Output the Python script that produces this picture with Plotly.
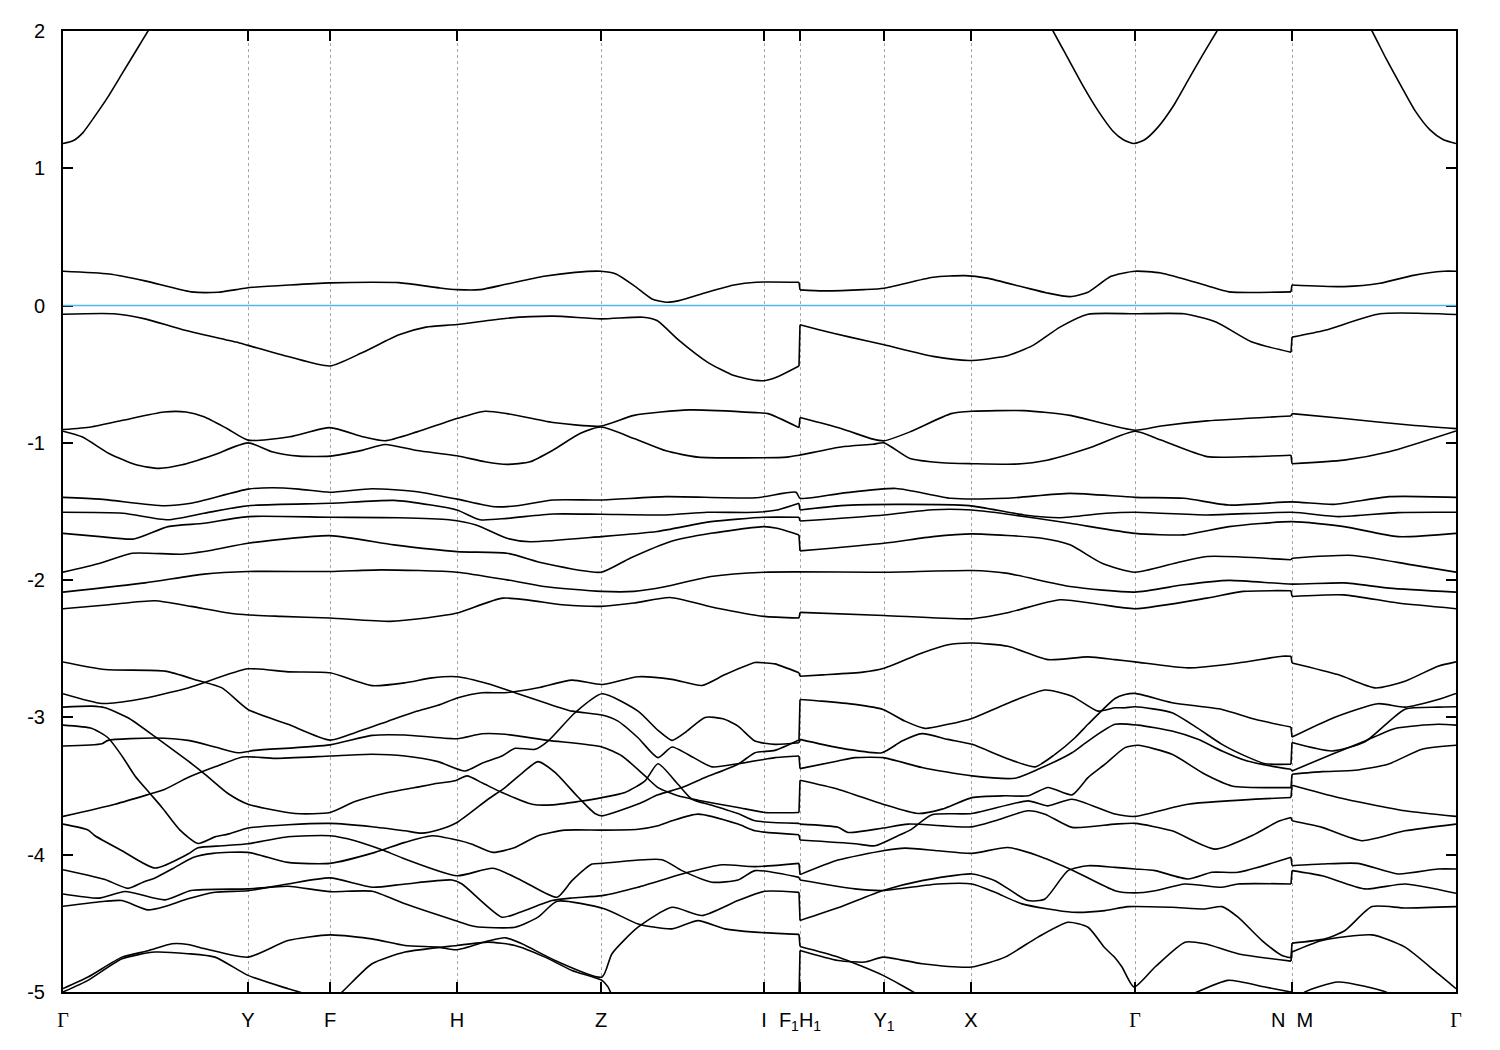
import plotly.graph_objects as go

# ---- high-symmetry path (k distance, arbitrary units) ----
G = '<span style="font-family:Liberation Serif, Times New Roman, serif">Γ</span>'
tick_k = [0, 185, 267, 394, 538, 701, 737, 821, 908, 1072, 1229, 1393]
tick_lab = [G, "Y", "F", "H", "Z", "I", "F<sub>1</sub>H<sub>1</sub>", "Y<sub>1</sub>", "X", G, "N  M", G]

# ---- conduction band pieces visible below 2 eV ----
cb_left = [(0, 1.18), (10, 1.2), (20, 1.26), (30, 1.36), (45, 1.52), (60, 1.7), (75, 1.88), (85, 2.0), (95, 2.12)]
cb_mid = [(980, 2.12), (990, 2.0), (1005, 1.8), (1020, 1.6), (1035, 1.42), (1050, 1.27), (1060, 1.21), (1071, 1.18),
          (1082, 1.21), (1095, 1.3), (1110, 1.45), (1125, 1.64), (1140, 1.83), (1154, 2.0), (1164, 2.12)]
cb_right = [(1299, 2.12), (1309, 2.0), (1323, 1.8), (1338, 1.6), (1352, 1.42), (1367, 1.28), (1380, 1.21), (1393, 1.18)]

cb1 = [(0, 0.25), (46, 0.23), (82, 0.18), (128, 0.10), (155, 0.097), (173, 0.116), (185, 0.13), (227, 0.15), (267, 0.165),
       (309, 0.17), (336, 0.167), (377, 0.128), (394, 0.116), (417, 0.116), (444, 0.157), (481, 0.213), (512, 0.242),
       (538, 0.25), (553, 0.23), (571, 0.145), (589, 0.048), (603, 0.024), (616, 0.036), (644, 0.097), (671, 0.15),
       (693, 0.17), (736, 0.17), (737, 0.114), (760, 0.107), (801, 0.116), (821, 0.126), (870, 0.206), (902, 0.218),
       (924, 0.2), (961, 0.133), (984, 0.092), (1007, 0.065), (1025, 0.097), (1048, 0.213), (1072, 0.25), (1098, 0.237),
       (1144, 0.145), (1166, 0.10), (1228, 0.10), (1229, 0.15), (1281, 0.138), (1317, 0.162), (1349, 0.218),
       (1381, 0.25), (1393, 0.25)]

# ---- valence bands ----
vb1 = [(0, -0.063), (51, -0.06), (82, -0.097), (119, -0.174), (173, -0.266), (185, -0.29), (227, -0.375), (267, -0.44),
       (300, -0.34), (336, -0.213), (363, -0.157), (394, -0.138), (444, -0.092), (490, -0.077), (538, -0.097),
       (580, -0.085), (594, -0.109), (616, -0.254), (644, -0.41), (671, -0.51), (693, -0.545), (701, -0.547),
       (714, -0.52), (736, -0.44), (737, -0.14), (755, -0.174), (787, -0.23), (821, -0.286), (870, -0.37), (906, -0.40),
       (943, -0.368), (970, -0.29), (997, -0.157), (1025, -0.063), (1072, -0.06), (1121, -0.06), (1153, -0.12),
       (1189, -0.266), (1228, -0.34), (1229, -0.23), (1262, -0.18), (1317, -0.06), (1393, -0.065)]

vb2 = [(0, -0.903), (28, -0.884), (60, -0.835), (101, -0.775), (123, -0.775), (141, -0.81), (164, -0.896), (185, -0.98),
       (227, -0.956), (267, -0.889), (300, -0.956), (322, -0.985), (354, -0.92), (394, -0.823), (422, -0.77),
       (444, -0.787), (490, -0.852), (538, -0.877), (571, -0.80), (626, -0.76), (693, -0.78), (705, -0.787),
       (736, -0.889), (737, -0.816), (778, -0.896), (810, -0.973), (821, -0.985), (847, -0.92), (888, -0.787),
       (909, -0.77), (961, -0.765), (1007, -0.80), (1072, -0.908), (1098, -0.877), (1144, -0.84), (1228, -0.804),
       (1229, -0.787), (1281, -0.823), (1349, -0.872), (1393, -0.896)]

vb3 = [(0, -0.915), (19, -0.956), (46, -1.077), (73, -1.16), (96, -1.186), (119, -1.16), (150, -1.09), (185, -1.0),
       (209, -1.065), (236, -1.097), (267, -1.097), (300, -1.053), (322, -1.012), (354, -1.056), (394, -1.094),
       (422, -1.138), (444, -1.157), (467, -1.138), (490, -1.053), (517, -0.932), (538, -0.885), (571, -0.968),
       (603, -1.058), (635, -1.104), (724, -1.104), (736, -1.09), (778, -1.03), (810, -1.01), (821, -1.0), (847, -1.114),
       (879, -1.145), (909, -1.152), (952, -1.155), (984, -1.126), (1029, -1.03), (1072, -0.915), (1098, -0.98),
       (1144, -1.10), (1189, -1.10), (1228, -1.09), (1229, -1.152), (1281, -1.126), (1326, -1.065), (1393, -0.913)]

vb4 = [(0, -1.397), (37, -1.41), (101, -1.458), (128, -1.44), (185, -1.337), (209, -1.327), (236, -1.337), (267, -1.36),
       (309, -1.334), (354, -1.356), (394, -1.41), (431, -1.465), (454, -1.458), (490, -1.416), (538, -1.416),
       (603, -1.392), (693, -1.40), (733, -1.36), (737, -1.404), (778, -1.368), (833, -1.332), (888, -1.404),
       (943, -1.404), (1007, -1.368), (1072, -1.397), (1121, -1.404), (1166, -1.453), (1228, -1.43), (1271, -1.448),
       (1326, -1.392), (1393, -1.397)]

vb5 = [(0, -1.506), (60, -1.513), (105, -1.56), (141, -1.513), (185, -1.458), (267, -1.44), (331, -1.419), (368, -1.453),
       (394, -1.489), (417, -1.56), (444, -1.55), (490, -1.518), (538, -1.52), (603, -1.525), (644, -1.506),
       (693, -1.506), (714, -1.489), (736, -1.44), (737, -1.489), (778, -1.457), (833, -1.448), (906, -1.457),
       (961, -1.525), (997, -1.545), (1043, -1.513), (1072, -1.506), (1144, -1.525), (1229, -1.506), (1276, -1.537),
       (1335, -1.508), (1393, -1.506)]

vb6 = [(0, -1.659), (37, -1.683), (71, -1.70), (105, -1.61), (141, -1.586), (185, -1.537), (267, -1.542), (336, -1.545),
       (386, -1.56), (413, -1.598), (444, -1.695), (467, -1.72), (538, -1.683), (594, -1.646), (648, -1.574),
       (701, -1.542), (736, -1.542), (737, -1.569), (821, -1.525), (870, -1.487), (909, -1.489), (938, -1.513),
       (1007, -1.586), (1072, -1.659), (1121, -1.67), (1166, -1.61), (1229, -1.574), (1281, -1.61), (1335, -1.683),
       (1393, -1.659)]

vb7 = [(0, -1.942), (37, -1.877), (69, -1.804), (119, -1.811), (150, -1.78), (185, -1.731), (267, -1.676), (331, -1.743),
       (394, -1.792), (444, -1.804), (481, -1.877), (538, -1.942), (567, -1.84), (607, -1.72), (648, -1.659),
       (701, -1.61), (714, -1.622), (736, -1.671), (737, -1.787), (821, -1.731), (870, -1.683), (909, -1.663),
       (979, -1.695), (1007, -1.743), (1039, -1.877), (1072, -1.942), (1112, -1.877), (1144, -1.828), (1228, -1.852),
       (1229, -1.84), (1290, -1.82), (1349, -1.889), (1393, -1.942)]

vb8 = [(0, -2.087), (82, -2.02), (141, -1.956), (185, -1.937), (267, -1.937), (318, -1.925), (394, -1.942), (444, -1.998),
       (481, -2.046), (538, -2.082), (571, -2.082), (603, -2.046), (648, -1.973), (701, -1.942), (821, -1.942),
       (909, -1.93), (943, -1.949), (1007, -2.046), (1072, -2.087), (1121, -2.034), (1166, -2.002), (1229, -2.029),
       (1281, -2.02), (1326, -2.058), (1393, -2.087)]

vb9 = [(0, -2.208), (46, -2.179), (92, -2.15), (128, -2.191), (173, -2.247), (218, -2.264), (267, -2.276), (327, -2.30),
       (363, -2.276), (394, -2.24), (440, -2.131), (499, -2.179), (538, -2.191), (571, -2.167), (607, -2.126),
       (653, -2.203), (701, -2.264), (736, -2.276), (737, -2.235), (821, -2.257), (909, -2.281), (943, -2.24),
       (997, -2.143), (1034, -2.174), (1072, -2.208), (1144, -2.131), (1180, -2.082), (1228, -2.077), (1229, -2.119),
       (1281, -2.107), (1335, -2.167), (1393, -2.208)]

# ---- dense manifold -2.5 ... -5 eV ----
vb10 = [(0, -2.596), (42, -2.651), (102, -2.663), (135, -2.731), (159, -2.785), (185, -2.942), (225, -3.05),
        (267, -3.165), (292, -3.111), (325, -3.027), (352, -2.959), (375, -2.912), (395, -2.857), (419, -2.82),
        (442, -2.82), (475, -2.784), (509, -2.728), (539, -2.76), (575, -2.704), (609, -2.723), (639, -2.767),
        (662, -2.688), (692, -2.60), (702, -2.603), (712, -2.61), (736, -2.675), (737, -2.70), (760, -2.69),
        (800, -2.67), (820, -2.644), (859, -2.53), (885, -2.47), (909, -2.458), (945, -2.482), (985, -2.579),
        (1025, -2.559), (1052, -2.579), (1072, -2.595), (1125, -2.639), (1175, -2.603), (1219, -2.554), (1228, -2.554),
        (1229, -2.603), (1275, -2.688), (1312, -2.785), (1342, -2.736), (1375, -2.627), (1393, -2.595)]

vb11 = [(0, -2.827), (39, -2.898), (75, -2.869), (125, -2.785), (185, -2.646), (225, -2.668), (267, -2.675),
        (309, -2.768), (342, -2.748), (369, -2.712), (394, -2.704), (425, -2.755), (452, -2.82), (482, -2.893),
        (509, -2.954), (539, -2.983), (555, -3.027), (575, -3.148), (595, -3.293), (609, -3.215), (625, -3.27),
        (649, -3.36), (675, -3.337), (702, -3.305), (712, -3.293), (736, -3.281), (737, -3.373), (775, -3.317),
        (792, -3.293), (820, -3.293), (859, -3.365), (909, -3.426), (952, -3.443), (975, -3.378), (1009, -3.257),
        (1025, -3.172), (1052, -3.05), (1075, -3.056), (1109, -3.099), (1135, -3.159), (1159, -3.244), (1182, -3.312),
        (1202, -3.346), (1228, -3.378), (1229, -3.39), (1269, -3.268), (1302, -3.172), (1332, -3.08), (1375, -3.05),
        (1393, -3.056)]

vb12 = [(0, -2.925), (29, -2.918), (42, -2.93), (65, -3.002), (92, -3.14), (125, -3.317), (142, -3.414), (165, -3.554),
        (185, -3.632), (232, -3.70), (267, -3.693), (292, -3.613), (325, -3.547), (352, -3.511), (375, -3.48),
        (392, -3.462), (404, -3.426), (420, -3.48), (439, -3.547), (469, -3.632), (489, -3.637), (515, -3.613),
        (539, -3.584), (562, -3.547), (582, -3.462), (595, -3.337), (615, -3.487), (629, -3.596), (649, -3.64),
        (675, -3.70), (692, -3.753), (736, -3.772), (737, -3.777), (775, -3.80), (785, -3.838), (820, -3.806),
        (845, -3.777), (909, -3.797), (932, -3.753), (965, -3.68), (982, -3.705), (1009, -3.801), (1052, -3.777),
        (1072, -3.772), (1109, -3.826), (1152, -3.959), (1192, -3.85), (1215, -3.758), (1228, -3.729), (1229, -3.753),
        (1259, -3.801), (1299, -3.898), (1342, -3.826), (1393, -3.777)]

vb13 = [(0, -3.056), (29, -3.08), (45, -3.148), (59, -3.281), (72, -3.426), (87, -3.554), (99, -3.656), (117, -3.821),
        (135, -3.918), (152, -3.87), (165, -3.85), (185, -3.806), (225, -3.782), (267, -3.772), (309, -3.796),
        (342, -3.826), (359, -3.843), (375, -3.82), (394, -3.765), (425, -3.596), (442, -3.511), (460, -3.40),
        (475, -3.322), (492, -3.40), (515, -3.58), (532, -3.70), (539, -3.717), (575, -3.631), (595, -3.564),
        (619, -3.511), (642, -3.438), (675, -3.341), (692, -3.257), (712, -3.24), (736, -3.165), (737, -2.869),
        (759, -2.881), (792, -2.905), (820, -2.942), (842, -3.027), (862, -3.08), (885, -3.05), (909, -3.007),
        (942, -2.905), (982, -2.80), (1009, -2.845), (1035, -2.954), (1052, -2.93), (1062, -2.93), (1072, -2.922),
        (1109, -2.966), (1135, -3.08), (1159, -3.196), (1182, -3.28), (1202, -3.337), (1228, -3.341), (1229, -3.183),
        (1269, -3.244), (1302, -3.177), (1342, -2.94), (1375, -2.925), (1393, -2.922)]

vb14 = [(0, -3.208), (39, -3.191), (45, -3.167), (92, -3.15), (125, -3.167), (152, -3.215), (175, -3.257),
        (192, -3.24), (267, -3.2), (309, -3.131), (342, -3.128), (394, -3.155), (419, -3.119), (442, -3.123),
        (485, -3.167), (539, -3.215), (559, -3.281), (582, -3.426), (595, -3.511), (615, -3.571), (635, -3.603),
        (675, -3.656), (702, -3.692), (736, -3.692), (737, -3.458), (775, -3.523), (820, -3.632), (855, -3.70),
        (879, -3.668), (909, -3.584), (942, -3.571), (965, -3.571), (985, -3.51), (1009, -3.564), (1025, -3.438),
        (1042, -3.341), (1062, -3.22), (1075, -3.203), (1109, -3.269), (1142, -3.414), (1169, -3.499), (1228, -3.511),
        (1229, -3.414), (1259, -3.395), (1292, -3.385), (1325, -3.341), (1359, -3.232), (1393, -3.203)]

vb15 = [(0, -3.721), (52, -3.632), (84, -3.564), (102, -3.523), (125, -3.438), (152, -3.36), (180, -3.288),
        (212, -3.298), (267, -3.281), (309, -3.268), (342, -3.281), (375, -3.322), (402, -3.39), (420, -3.33),
        (439, -3.281), (452, -3.225), (472, -3.232), (485, -3.172), (512, -2.966), (539, -2.828), (575, -2.954),
        (595, -3.094), (609, -3.167), (622, -3.111), (642, -3.0), (660, -3.01), (675, -3.063), (692, -3.172),
        (712, -3.196), (736, -3.184), (737, -3.16), (775, -3.22), (819, -3.257), (839, -3.172), (859, -3.118),
        (885, -3.16), (909, -3.196), (942, -3.293), (972, -3.36), (992, -3.269), (1012, -3.148), (1025, -3.05),
        (1052, -2.862), (1062, -2.833), (1072, -2.825), (1109, -2.893), (1159, -2.942), (1192, -3.014),
        (1228, -3.07), (1229, -3.143), (1269, -3.007), (1315, -2.9), (1342, -2.925), (1375, -2.869), (1393, -2.825)]

vb16 = [(0, -3.777), (25, -3.82), (32, -3.862), (59, -3.971), (92, -4.097), (125, -3.995), (135, -3.95), (159, -3.935),
        (185, -3.92), (225, -3.869), (267, -3.862), (292, -3.898), (319, -3.964), (342, -4.031), (394, -4.153),
        (430, -4.099), (459, -4.189), (494, -4.31), (509, -4.189), (529, -4.068), (539, -4.063), (599, -4.036),
        (619, -4.116), (649, -4.2), (675, -4.184), (692, -4.116), (736, -4.165), (737, -4.184), (792, -4.249),
        (820, -4.261), (875, -4.213), (909, -4.213), (932, -4.274), (959, -4.358), (1009, -4.419), (1042, -4.407),
        (1065, -4.378), (1109, -4.383), (1142, -4.395), (1159, -4.378), (1175, -4.455), (1199, -4.625),
        (1219, -4.734), (1228, -4.751), (1229, -4.644), (1262, -4.613), (1282, -4.552), (1309, -4.378),
        (1342, -4.388), (1393, -4.378)]

vb17 = [(0, -4.109), (25, -4.15), (42, -4.18), (65, -4.245), (80, -4.2), (92, -4.169), (110, -4.1), (130, -4.02),
        (150, -3.99), (185, -3.983), (225, -4.056), (267, -4.063), (312, -3.983), (342, -3.91), (369, -3.862),
        (394, -3.893), (409, -3.923), (430, -3.983), (452, -3.947), (475, -3.862), (502, -3.821), (539, -3.821),
        (575, -3.814), (595, -3.789), (609, -3.753), (635, -3.704), (675, -3.777), (692, -3.826), (736, -3.855),
        (737, -3.893), (792, -3.92), (812, -3.935), (835, -3.862), (847, -3.821), (869, -3.709), (909, -3.70),
        (965, -3.608), (985, -3.644), (1009, -3.596), (1052, -3.704), (1072, -3.721), (1125, -3.632), (1228, -3.583),
        (1229, -3.494), (1275, -3.583), (1342, -3.68), (1393, -3.721)]

vb18 = [(0, -4.286), (36, -4.316), (62, -4.268), (102, -4.329), (128, -4.261), (185, -4.249), (225, -4.23),
        (267, -4.269), (309, -4.266), (342, -4.358), (392, -4.479), (412, -4.523), (452, -4.528), (475, -4.455),
        (494, -4.339), (542, -4.395), (575, -4.504), (609, -4.54), (635, -4.48), (662, -4.54), (692, -4.564),
        (736, -4.58), (737, -4.668), (775, -4.745), (820, -4.879), (852, -5.007), (860, -5.05)]

vb19 = [(0, -4.375), (42, -4.339), (59, -4.334), (85, -4.402), (102, -4.377), (125, -4.321), (152, -4.273),
        (185, -4.262), (225, -4.213), (267, -4.169), (309, -4.237), (342, -4.213), (389, -4.184), (399, -4.213),
        (439, -4.455), (457, -4.419), (489, -4.334), (509, -4.315), (539, -4.298), (575, -4.237), (625, -4.128),
        (659, -4.073), (692, -4.087), (736, -4.063), (737, -4.145), (775, -4.039), (820, -3.971), (842, -3.952),
        (875, -3.971), (909, -3.99), (945, -3.947), (975, -4.007), (1009, -4.111), (1052, -4.262), (1072, -4.278),
        (1092, -4.262), (1122, -4.213), (1159, -4.237), (1175, -4.213), (1228, -4.213), (1229, -4.116),
        (1259, -4.153), (1302, -4.249), (1342, -4.213), (1393, -4.281)]

vb20 = [(0, -4.975), (25, -4.891), (59, -4.746), (85, -4.70), (109, -4.649), (125, -4.654), (142, -4.685),
        (185, -4.746), (225, -4.625), (267, -4.584), (309, -4.613), (342, -4.661), (375, -4.673), (394, -4.692),
        (425, -4.629), (442, -4.605), (459, -4.649), (492, -4.77), (539, -4.891), (549, -4.721), (575, -4.528),
        (609, -4.383), (639, -4.443), (675, -4.334), (702, -4.266), (736, -4.274), (737, -4.479), (775, -4.387),
        (820, -4.261), (859, -4.189), (909, -4.14), (932, -4.189), (965, -4.334), (982, -4.322), (1005, -4.116),
        (1025, -4.08), (1052, -4.092), (1072, -4.104), (1092, -4.116), (1125, -4.177), (1149, -4.128),
        (1175, -4.128), (1228, -4.019), (1229, -4.08), (1259, -4.068), (1295, -4.063), (1335, -4.14),
        (1375, -4.104), (1393, -4.104)]

vb21 = [(0, -5.0), (25, -4.915), (59, -4.758), (92, -4.709), (125, -4.721), (152, -4.746), (185, -4.879),
        (225, -4.976), (239, -5.007), (250, -5.05)]

vb22 = [(270, -5.05), (279, -5.0), (309, -4.794), (342, -4.709), (394, -4.661), (425, -4.637), (452, -4.661),
        (482, -4.746), (509, -4.843), (539, -4.915), (545, -4.963), (548, -5.01)]

vb23 = [(736, -5.05), (737, -4.697), (775, -4.77), (802, -4.782), (820, -4.746), (859, -4.794), (909, -4.818),
        (942, -4.746), (975, -4.6), (1005, -4.492), (1025, -4.528), (1042, -4.68), (1052, -4.75), (1059, -4.818),
        (1071, -4.964), (1092, -4.818), (1122, -4.637), (1142, -4.649), (1175, -4.721), (1228, -4.775),
        (1229, -4.709), (1259, -4.625), (1309, -4.584), (1342, -4.673), (1375, -4.867), (1393, -4.976)]

vb24 = [(1120, -5.05), (1132, -5.007), (1165, -4.915), (1202, -4.964), (1228, -5.0)]
vb25 = [(1235, -5.05), (1242, -5.0), (1275, -4.927), (1325, -5.007), (1330, -5.05)]

bands = [cb_left, cb_mid, cb_right, cb1, vb1, vb2, vb3, vb4, vb5, vb6, vb7, vb8, vb9,
         vb10, vb11, vb12, vb13, vb14, vb15, vb16, vb17, vb18, vb19, vb20, vb21, vb22, vb23, vb24, vb25]


def pieces(band):
    """Split a band at the path discontinuities (two points one k-unit apart)."""
    smooth, jumps, cur = [], [], [band[0]]
    for p, q in zip(band[:-1], band[1:]):
        if q[0] - p[0] <= 1:
            smooth.append(cur)
            jumps.append([p, q])
            cur = [q]
        else:
            cur.append(q)
    smooth.append(cur)
    return smooth, jumps


fig = go.Figure()
line_kw = dict(color="black", width=1.6)
for b in bands:
    smooth, jumps = pieces(b)
    for seg in smooth:
        if len(seg) < 2:
            continue
        fig.add_trace(go.Scatter(x=[p[0] for p in seg], y=[p[1] for p in seg], mode="lines",
                                 line=dict(shape="spline", smoothing=0.6, **line_kw),
                                 hoverinfo="skip", showlegend=False))
    for seg in jumps:
        fig.add_trace(go.Scatter(x=[p[0] for p in seg], y=[p[1] for p in seg], mode="lines",
                                 line=line_kw, hoverinfo="skip", showlegend=False))

# Fermi level
fig.add_shape(type="line", x0=0, x1=1393, y0=0, y1=0, xref="x", yref="y",
              line=dict(color="#56b4e9", width=1.6), layer="above")

font = dict(family="Liberation Sans, Arial, sans-serif", size=20, color="black")
fig.update_layout(
    width=1492, height=1042,
    margin=dict(l=55, r=44, t=20, b=58),
    paper_bgcolor="white", plot_bgcolor="white",
    font=font, showlegend=False,
)
fig.update_xaxes(range=[0, 1393], tickmode="array", tickvals=tick_k, ticktext=tick_lab, tickangle=0,
                 showgrid=True, gridcolor="#a8a8a8", gridwidth=1, griddash="3px,3px",
                 showline=True, linecolor="black", linewidth=2, mirror="allticks",
                 ticks="inside", ticklen=10, tickwidth=1.5, tickcolor="black",
                 zeroline=False, ticklabelstandoff=9, tickfont=font)
fig.update_yaxes(range=[-5, 2], tickmode="array", tickvals=[-5, -4, -3, -2, -1, 0, 1, 2],
                 ticktext=["-5", "-4", "-3", "-2", "-1", "0", "1", "2"],
                 showgrid=False, showline=True, linecolor="black", linewidth=2, mirror="allticks",
                 ticks="inside", ticklen=10, tickwidth=1.5, tickcolor="black",
                 zeroline=False, ticklabelstandoff=12, tickfont=font)

fig.write_html("out.html")
